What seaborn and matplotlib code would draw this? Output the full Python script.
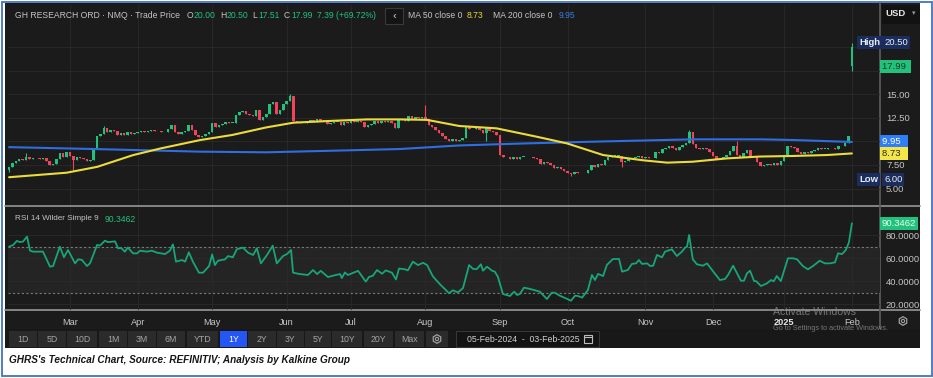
import matplotlib
matplotlib.use("Agg")
import matplotlib.pyplot as plt
from matplotlib.patches import Rectangle, Circle, RegularPolygon
from matplotlib.ticker import FuncFormatter, FormatStrFormatter
import numpy as np
import pandas as pd
import seaborn as sns

# ---- data (one value per trading session, 05-Feb-2024 .. 03-Feb-2025)
closes = [
    7.3, 7.7, 7.9, 8.1, 8.0, 8.4, 8.1, 8.2, 8.2, 8.1,
    8.2, 7.9, 7.5, 7.6, 8.1, 8.8, 8.4, 8.9, 8.5, 8.0,
    8.3, 8.2, 8.1, 7.9, 8.0, 9.3, 10.6, 10.8, 11.4, 11.0,
    11.2, 11.1, 10.7, 10.9, 10.7, 11.0, 10.8, 10.9, 11.0, 11.1,
    11.0, 11.1, 11.2, 11.1, 11.1, 11.0, 11.0, 11.3, 11.8, 11.0,
    10.8, 11.0, 11.1, 11.8, 11.2, 10.7, 10.5, 10.6, 10.8, 11.0,
    12.0, 11.5, 11.8, 11.9, 12.1, 12.0, 12.0, 12.8, 13.1, 13.2,
    12.9, 12.8, 12.7, 13.3, 12.3, 12.6, 12.9, 14.0, 14.2, 12.9,
    13.3, 14.0, 14.3, 14.8, 12.2, 12.1, 12.0, 12.0, 12.1, 12.3,
    12.1, 12.4, 12.2, 12.3, 11.9, 12.0, 12.1, 12.1, 11.8, 12.1,
    12.0, 12.2, 12.1, 12.2, 12.1, 11.5, 11.8, 11.9, 12.2, 12.0,
    12.2, 12.1, 12.2, 12.0, 11.4, 12.3, 12.3, 12.2, 12.7, 12.4,
    12.6, 12.5, 12.6, 12.4, 11.8, 11.5, 11.2, 10.9, 10.6, 10.3,
    10.0, 10.3, 10.1, 10.2, 10.4, 11.6, 11.3, 11.3, 11.5, 11.2,
    10.9, 11.4, 11.1, 11.0, 10.7, 8.6, 8.3, 8.4, 8.1, 8.3,
    8.1, 8.4, 8.4, 8.3, 8.3, 8.2, 8.1, 7.6, 7.8, 7.7,
    7.5, 7.2, 7.3, 7.1, 6.9, 6.7, 6.5, 6.8, 6.6, 6.7,
    6.6, 7.0, 7.5, 7.3, 7.6, 7.5, 8.0, 8.3, 8.5, 8.5,
    8.5, 7.8, 7.9, 8.2, 8.2, 8.3, 8.5, 8.2, 8.3, 8.2,
    8.2, 8.9, 8.8, 9.2, 9.3, 9.5, 9.3, 9.1, 9.4, 9.6,
    9.8, 11.0, 9.7, 9.3, 9.2, 9.3, 9.2, 8.9, 8.5, 8.1,
    8.2, 8.3, 8.6, 9.0, 9.5, 8.6, 8.4, 8.8, 9.1, 8.4,
    8.3, 7.8, 7.4, 7.5, 7.6, 7.5, 7.7, 7.5, 7.9, 8.6,
    9.5, 9.4, 9.3, 8.9, 8.7, 8.9, 8.8, 9.0, 9.1, 9.3,
    9.2, 9.2, 9.3, 9.3, 9.2, 9.5, 9.5, 9.8, 10.6, 17.99,
]
open_fix = {0: 7.0, 249: 20.00}
high_fix = {5: 8.8, 28: 11.7, 83: 15.0, 123: 13.9, 201: 11.2, 215: 10.0, 249: 20.50}
low_fix = {0: 6.8, 19: 7.0, 141: 10.1, 166: 6.3, 181: 7.3, 249: 17.51}

ma50_day = [0, 17, 26, 36.6, 44.6, 56.4, 66, 76, 84, 95.7, 105.7, 115.5, 123.5,
            133, 144, 156, 164.8, 175.5, 187.3, 194.4, 202, 212, 221.8, 231.6, 241.6, 249]
ma50_val = [6.2, 6.68, 7.3, 8.55, 9.25, 10.15, 10.7, 11.5, 12.0, 12.2, 12.35, 12.35, 12.3,
            11.65, 11.4, 10.5, 9.8, 8.56, 8.0, 7.75, 7.85, 8.2, 8.4, 8.46, 8.56, 8.73]
ma200_day = [0, 25, 56.4, 76, 95.7, 115.5, 133, 153, 172.5, 202, 222, 231.6, 249]
ma200_val = [9.4, 9.2, 8.92, 8.85, 9.02, 9.2, 9.58, 9.8, 9.98, 10.23, 10.23, 10.16, 9.95]

rsi_day = [0, 1.2, 2.3, 3.2, 4.1, 5.3, 6.2, 7.1, 10, 12.1,
           13, 15, 16.2, 17.4, 19.5, 20.4, 21.5, 23, 23.9, 26,
           26.9, 28.3, 29.2, 31.3, 32.2, 33.1, 34.2, 35.1, 36.6, 37.8,
           38.7, 40.7, 42.2, 43.7, 46.1, 47.5, 48.4, 49.3, 51.1, 52,
           53.1, 54.3, 56.1, 57.3, 59.1, 60, 60.8, 61.7, 63.8, 64.7,
           66.1, 67.3, 69.1, 70.6, 72.1, 73.2, 74.4, 76.2, 77.9, 79.1,
           80.9, 82.1, 83.3, 83.9, 85.9, 88.3, 89.8, 91, 92.1, 94.2,
           95.7, 97.8, 98.3, 99.2, 100.1, 103.1, 105.4, 106.3, 107.5, 108.7,
           110.2, 111.3, 113.1, 114.3, 115.2, 116.9, 117.8, 119.3, 120.8, 122.3,
           123.5, 125.2, 127.3, 130, 131.1, 132.6, 134.1, 135.9, 137.1, 138.2,
           139.4, 140, 141.2, 142.7, 143.5, 144.4, 145.9, 148, 149.2, 150.1,
           150.9, 152.1, 153.9, 156.8, 158.9, 160.3, 161.2, 162.7, 164.5, 166,
           167.2, 168.1, 169.3, 171, 172.2, 173.1, 174, 175.5, 176.6, 178.4,
           180.2, 181.1, 182.8, 184, 185.2, 186.1, 187, 188.5, 189.4, 190.3,
           191.4, 192.9, 193.8, 195.8, 197.3, 198.8, 199.7, 200.3, 200.9, 202,
           203.2, 205, 206.2, 207.9, 210, 211.5, 212.4, 213.9, 216.2, 217.1,
           218, 218.9, 220.1, 220.7, 222.1, 223.9, 225.1, 225.9, 226.8, 228,
           230.1, 231.6, 232.8, 234.5, 236, 237.5, 239.5, 241, 242.5, 244,
           244.9, 246.1, 247.2, 248.1, 249]
rsi_val = [70, 71.5, 75, 74, 74.4, 78.7, 66.5, 65.7, 65.7, 52.6,
           53.2, 70, 60.8, 67.1, 55.5, 59, 58.5, 53.2, 55.5, 71.5,
           71, 75.2, 74, 74.6, 68.6, 68.9, 65.7, 69.3, 64.2, 64.2,
           66.5, 65.7, 66.5, 64.8, 63.6, 66.5, 72, 57, 58.4, 57,
           65.1, 57, 47.4, 47.4, 53.2, 63.3, 54, 57.8, 59, 61.8,
           60.8, 67.8, 69.2, 64.8, 62.8, 68.6, 55.5, 62.8, 70.9, 55.5,
           61.8, 63.6, 67.1, 47.4, 46.2, 45.4, 49.7, 46.2, 49, 43.6,
           44.8, 46.2, 42.7, 47.6, 45.4, 49, 39.6, 43.6, 44.8, 49.7,
           46.5, 49.4, 47.4, 41.5, 51, 50.4, 49.4, 57, 54, 56,
           54, 44.2, 37.3, 29.5, 32.1, 30.3, 34, 54, 50.6, 50.6,
           54.7, 49.1, 52.6, 49.1, 48.3, 43.9, 28.9, 27.1, 30.9, 28,
           28.9, 34.4, 33.3, 30.9, 24.5, 30, 30, 27.4, 25.1, 23,
           27.4, 27.1, 25.7, 32.3, 45.4, 41, 46.3, 44.5, 54.1, 59.3,
           59.3, 48.3, 49.7, 55, 55.5, 58.4, 55, 55.5, 53.2, 53.5,
           62.8, 60.8, 65.7, 67.7, 61.9, 65.7, 69.2, 70, 80.2, 59,
           54.7, 53.5, 55.5, 48.9, 41, 41.9, 45.4, 53.5, 40.4, 40.4,
           46.8, 49.1, 40.1, 40.1, 35.8, 38.1, 41, 39.9, 44.5, 40.1,
           59.9, 59.9, 59, 53.2, 50.3, 53.2, 57.8, 55.5, 55.5, 56.4,
           64.2, 63.6, 67.1, 73.5, 90.35]

month_pos = [18, 38, 60, 82, 101, 123, 145, 165, 188, 208, 229, 249]
month_lbl = ['Mar', 'Apr', 'May', 'Jun', 'Jul', 'Aug', 'Sep', 'Oct', 'Nov', 'Dec', '2025', 'Feb']
price_ticks = [5, 7.5, 10, 12.5, 15, 17.5, 20]
hidden_price_ticks = [10, 17.5, 20]   # covered by the value badges in the screenshot
rsi_ticks = [20, 40, 60, 80]
buttons = ['1D', '5D', '10D', '1M', '3M', '6M', 'YTD', '1Y', '2Y', '3Y', '5Y', '10Y', '20Y', 'Max']
button_edges = [(9, 37), (38, 66), (67, 97), (99, 127), (128, 156), (157, 185), (187, 218),
                (220, 247), (248, 276), (277, 304), (305, 331), (332, 362), (364, 393), (395, 424)]

# ---- styling
sns.set_style("dark")
plt.rcParams['font.family'] = ['Liberation Sans', 'DejaVu Sans']

W, H = 933, 378
GREEN = '#22c27c'
RED = '#ef4459'
GRID = '#2a2a2a'
TXT = '#c4c4c4'

fig = plt.figure(figsize=(W / 100, H / 100), dpi=100)
fig.patch.set_facecolor('white')


def frac(x0, y0, x1, y1):
    return [x0 / W, 1 - y1 / H, (x1 - x0) / W, (y1 - y0) / H]


def axfrac(px):
    return (px - 8) / 872.0


# background layer (pixel coordinates)
bg = fig.add_axes([0, 0, 1, 1])
bg.set_xlim(0, W)
bg.set_ylim(H, 0)
bg.axis('off')
bg.add_patch(Rectangle((1.5, 1.5), 930, 374.5, fill=False, ec='#4472c4', lw=1.3))
bg.add_patch(Rectangle((5, 3), 915, 345, fc='#1b1b1b', ec='none'))
bg.plot([5, 920], [206, 206], color='#8e8e8e', lw=1.3)
bg.plot([5, 920], [310, 310], color='#8e8e8e', lw=1.3)
bg.plot([880, 880], [3, 329], color='#585858', lw=1.3)

# ---- price panel
df = pd.DataFrame({'close': closes})
df['day'] = np.arange(len(df))
df['prev'] = df['close'].shift(1)
df['open'] = df['prev']
for k, v in open_fix.items():
    df.loc[k, 'open'] = v
df['high'] = df[['open', 'close']].max(axis=1)
df['low'] = df[['open', 'close']].min(axis=1)
for k, v in high_fix.items():
    df.loc[k, 'high'] = v
for k, v in low_fix.items():
    df.loc[k, 'low'] = v
ref = df['prev'].fillna(df['open'])
colors = np.where(df['close'] >= ref, GREEN, RED)

ax = fig.add_axes(frac(8, 5, 880, 205))
ax.set_facecolor('none')
ax.vlines(df['day'], df['low'], df['high'], colors=colors, lw=0.8, zorder=3)
ax.bar(df['day'], (df['close'] - df['open']).abs().clip(lower=0.06),
       bottom=df[['open', 'close']].min(axis=1), width=0.74, color=colors, lw=0, zorder=3)
sns.lineplot(x=ma200_day, y=ma200_val, ax=ax, color='#2f6ee0', lw=1.5, zorder=4)
sns.lineplot(x=ma50_day, y=ma50_val, ax=ax, color='#ecdc3a', lw=1.5, zorder=4)
ax.set_xlim(-0.32, 257.3)
ax.set_ylim(3.245, 24.52)
ax.set_xticks(month_pos)
ax.set_yticks(price_ticks)
ax.yaxis.tick_right()
ax.yaxis.set_major_formatter(FuncFormatter(
    lambda v, p: '' if any(abs(v - h) < 1e-6 for h in hidden_price_ticks) else f'{v:.2f}'))
ax.tick_params(axis='y', length=0, pad=4.3, labelsize=6.8, labelcolor=TXT)
ax.tick_params(axis='x', length=0, labelbottom=False)
ax.grid(True, color=GRID, lw=0.6)
ax.set_axisbelow(True)
ax.set_xlabel('')
ax.set_ylabel('')
for s in ax.spines.values():
    s.set_visible(False)


def badge(axis, px, val, s, fc, tc, weight='normal'):
    axis.text(axfrac(px), val, s, transform=axis.get_yaxis_transform(), ha='left', va='center',
              fontsize=6.8, color=tc, fontweight=weight, clip_on=False, zorder=8,
              bbox=dict(boxstyle='square,pad=0.22', fc=fc, ec='none'))


NAVY = '#1b2d5c'
badge(ax, 859, 20.50, 'High', NAVY, '#e6ecf8', 'bold')
badge(ax, 884, 20.50, '20.50', NAVY, '#e6ecf8')
badge(ax, 882, 17.99, '17.99 ', GREEN, '#0f3a25')
badge(ax, 882, 9.95, '9.95  ', '#2f7ef5', 'white')
badge(ax, 882, 8.73, '8.73  ', '#f3e54a', '#2a2a10')
badge(ax, 859, 6.00, 'Low', NAVY, '#e6ecf8', 'bold')
badge(ax, 884, 6.00, '6.00', NAVY, '#e6ecf8')

# ---- RSI panel
rax = fig.add_axes(frac(8, 207, 880, 310))
rax.set_facecolor('none')
rax.axhspan(30, 70, color='#242424', lw=0, zorder=0)
for lvl in (30, 70):
    rax.axhline(lvl, color='#7a7a7a', lw=0.8, ls=(0, (2, 2)), zorder=1)
sns.lineplot(x=rsi_day, y=rsi_val, ax=rax, color='#17a57a', lw=1.3, sort=False, zorder=4)
rax.set_xlim(-0.32, 257.3)
rax.set_ylim(14.96, 104.5)
rax.set_yticks(rsi_ticks)
rax.yaxis.tick_right()
rax.yaxis.set_major_formatter(FormatStrFormatter('%.4f'))
rax.tick_params(axis='y', length=0, pad=4.3, labelsize=6.8, labelcolor=TXT)
rax.set_xticks(month_pos, month_lbl)
rax.tick_params(axis='x', length=0, pad=6, labelsize=6.6, labelcolor='#c8c8c8')
for lbl in rax.get_xticklabels():
    if lbl.get_text() == '2025':
        lbl.set_fontweight('bold')
        lbl.set_color('#e8e8e8')
rax.grid(True, color=GRID, lw=0.6)
rax.set_axisbelow(True)
rax.set_xlabel('')
rax.set_ylabel('')
for s in rax.spines.values():
    s.set_visible(False)
badge(rax, 882, rsi_val[-1], '90.3462', GREEN, '#eafff4')

# ---- foreground layer: header, buttons, caption
fg = fig.add_axes([0, 0, 1, 1])
fg.set_xlim(0, W)
fg.set_ylim(H, 0)
fg.axis('off')
fg.patch.set_alpha(0)

hy = 16
fs = 6.2
fg.text(15, hy, 'GH RESEARCH ORD · NMQ · Trade Price', color=TXT, fontsize=fs, va='center')
for lx, lab, vx, val in [(187, 'O', 194, '20.00'), (220, 'H', 227, '20.50'),
                         (252, 'L', 258, '17.51'), (284, 'C', 291, '17.99')]:
    fg.text(lx, hy, lab, color=TXT, fontsize=fs, va='center')
    fg.text(vx, hy, val, color=GREEN, fontsize=fs, va='center')
fg.text(317, hy, '7.39 (+69.72%)', color=GREEN, fontsize=fs, va='center')
fg.add_patch(Rectangle((385, 8), 18, 16, fc='#141414', ec='#3a3a3a', lw=0.8))
fg.text(394, hy, '‹', color='#d0d0d0', fontsize=8, va='center', ha='center')
fg.text(408, hy, 'MA 50 close 0', color=TXT, fontsize=fs, va='center')
fg.text(467, hy, '8.73', color='#e6d73a', fontsize=fs, va='center')
fg.text(493, hy, 'MA 200 close 0', color=TXT, fontsize=fs, va='center')
fg.text(559, hy, '9.95', color='#3b7be0', fontsize=fs, va='center')
fg.add_patch(Rectangle((882, 5), 38, 19, fc='#121212', ec='none'))
fg.text(885, 14, 'USD', color='#e8e8e8', fontsize=6.8, fontweight='bold', va='center')
fg.text(914, 14, '▾', color='#9a9a9a', fontsize=5, va='center', ha='center')

fg.text(15, 219, 'RSI 14 Wilder Simple 9', color=TXT, fontsize=5.9, va='center')
fg.text(105, 219, '90.3462', color=GREEN, fontsize=fs, va='center')

# watermark (sits just under the month labels so it does not cover them)
fg.text(773, 312, 'Activate Windows', color='#8c8c8c', fontsize=7.6, va='center', alpha=0.8)
fg.text(773, 329, 'Go to Settings to activate Windows.', color='#8c8c8c', fontsize=5.3,
        va='center', alpha=0.8)

# gear icons
for gx, gy in [(903, 321), (437, 339)]:
    fg.add_patch(RegularPolygon((gx, gy), 6, radius=4.3, fill=False, ec='#a0a0a0', lw=0.9))
    fg.add_patch(Circle((gx, gy), 1.6, fill=False, ec='#a0a0a0', lw=0.8))

# range buttons
fg.add_patch(Rectangle((5, 329), 915, 19, fc='#181818', ec='none', zorder=0))
for (x0, x1), lab in zip(button_edges, buttons):
    sel = lab == '1Y'
    fg.add_patch(Rectangle((x0, 331), x1 - x0, 16, fc='#2356f5' if sel else '#2b2b2b', ec='none'))
    fg.text((x0 + x1) / 2, 339.3, lab, color='white' if sel else '#a4a4a4', fontsize=6.3,
            ha='center', va='center')
fg.add_patch(Rectangle((426, 331), 22, 16, fc='#2b2b2b', ec='none', zorder=0.5))
fg.add_patch(Rectangle((456, 331), 143, 16, fc='#131313', ec='#363636', lw=0.8))
fg.text(467, 339.3, '05-Feb-2024  -  03-Feb-2025', color='#cfcfcf', fontsize=6.3, va='center')
fg.add_patch(Rectangle((584, 335), 8, 8, fill=False, ec='#bdbdbd', lw=0.8))
fg.plot([584, 592], [337, 337], color='#bdbdbd', lw=0.8)

fg.text(9, 360, "GHRS's Technical Chart, Source: REFINITIV; Analysis by Kalkine Group",
        color='#151515', fontsize=7.2, fontweight='bold', style='italic', va='center')

fig.savefig('out.png', dpi=100, facecolor=fig.get_facecolor())
